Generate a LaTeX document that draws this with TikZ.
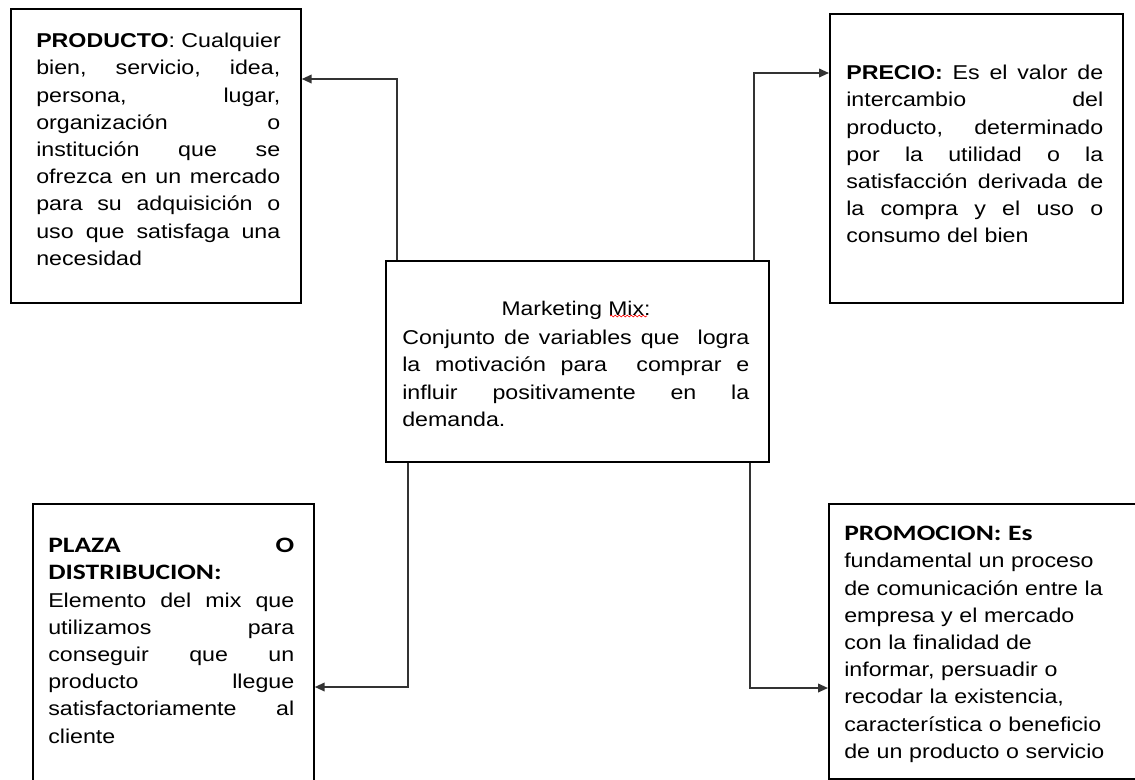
\documentclass[tikz,border=0pt]{standalone}
\usepackage{fontspec}
\setmainfont[FakeStretch=1.16]{Liberation Sans}
\newfontfamily\calb[FakeStretch=1.25]{Carlito}
\usetikzlibrary{arrows.meta,calc,decorations.pathmorphing}
\newlength\jw
\newcommand\J[1]{\leavevmode\hbox to \jw{\spaceskip=\fontdimen2\font plus 1fil\relax #1}}
\newcommand\hd[1]{{\calb\bfseries\fontsize{16.5}{20.4}\selectfont #1}}
\hbadness=10000 \hfuzz=20pt
\begin{document}
\begin{tikzpicture}[x=0.75pt,y=-0.75pt,
  box/.style={draw=black,line width=1.3pt,inner sep=0pt,anchor=north west},
  txt/.style={inner sep=0pt,anchor=north west,align=left,text=black,
    font=\fontsize{15}{20.4}\selectfont},
  conn/.style={draw=black!80,line width=1.3pt,-{Triangle[length=7.5pt,width=6.5pt]}}]
\path[use as bounding box] (0,0) rectangle (1135,779);
\clip (0,0) rectangle (1135,779);
% boxes
\node[box,minimum width=217.5pt,minimum height=220.5pt] (prod) at (10,8) {};
\node[box,minimum width=219.75pt,minimum height=216.75pt] (prec) at (829,13) {};
\node[box,minimum width=287.25pt,minimum height=150.75pt] (mix) at (385,260) {};
\node[box,minimum width=210.75pt,minimum height=225pt] (plaza) at (32,503) {};
\node[box,minimum width=240pt,minimum height=206.25pt] (promo) at (828,503) {};
% texts
\node[txt,text width=183pt] (prodtxt) at (36,33) {\setlength\jw{183pt}%
\J{\textbf{PRODUCTO}: Cualquier}\\
\J{bien, servicio, idea,}\\
\J{persona, lugar,}\\
\J{organización o}\\
\J{institución que se}\\
\J{ofrezca en un mercado}\\
\J{para su adquisición o}\\
\J{uso que satisfaga una}\\
necesidad};
\node[txt,text width=192.75pt] (prectxt) at (846,65) {\setlength\jw{192.75pt}%
\J{\textbf{PRECIO:} Es el valor de}\\
\J{intercambio del}\\
\J{producto, determinado}\\
\J{por la utilidad o la}\\
\J{satisfacción derivada de}\\
\J{la compra y el uso o}\\
consumo del bien};
\node[anchor=base,inner sep=0pt,font=\fontsize{14.8}{16}\selectfont] (mixtitle) at (576,315) {Marketing Mix:};
\node[txt,text width=260.25pt] (mixtxt) at (402,330) {\setlength\jw{260.25pt}%
\J{Conjunto de variables que\ \ logra}\\
\J{la motivación para\ \ comprar e}\\
\J{influir positivamente en la}\\
demanda.};
\node[txt,text width=184.5pt] (plazatxt) at (48,538) {\setlength\jw{184.5pt}%
\J{\hd{PLAZA} \hd{O}}\\
\hd{DISTRIBUCION:}\\
\J{Elemento del mix que}\\
\J{utilizamos para}\\
\J{conseguir que un}\\
\J{producto llegue}\\
\J{satisfactoriamente al}\\
cliente};
\node[txt,text width=205pt] (promotxt) at (844,526) {%
\hd{PROMOCION: Es}\\
fundamental un proceso\\
de comunicación entre la\\
empresa y el mercado\\
con la finalidad de\\
informar, persuadir o\\
recodar la existencia,\\
característica o beneficio\\
de un producto o servicio};
% spell-check squiggle
\draw[red,line width=0.5pt,decorate,decoration={snake,amplitude=0.7pt,segment length=3pt}] (610,316) -- (647,316);
% connectors
\draw[conn] ($(mix.north west)+(12,0)$) |- ($(prod.north east)+(0,71)$);
\draw[conn] ($(mix.north east)+(-16,0)$) |- ($(prec.north west)+(0,60)$);
\draw[conn] ($(mix.south west)+(23,0)$) |- ($(plaza.north east)+(0,184)$);
\draw[conn] ($(mix.south east)+(-20,0)$) |- ($(promo.north west)+(0,185)$);
\end{tikzpicture}
\end{document}
